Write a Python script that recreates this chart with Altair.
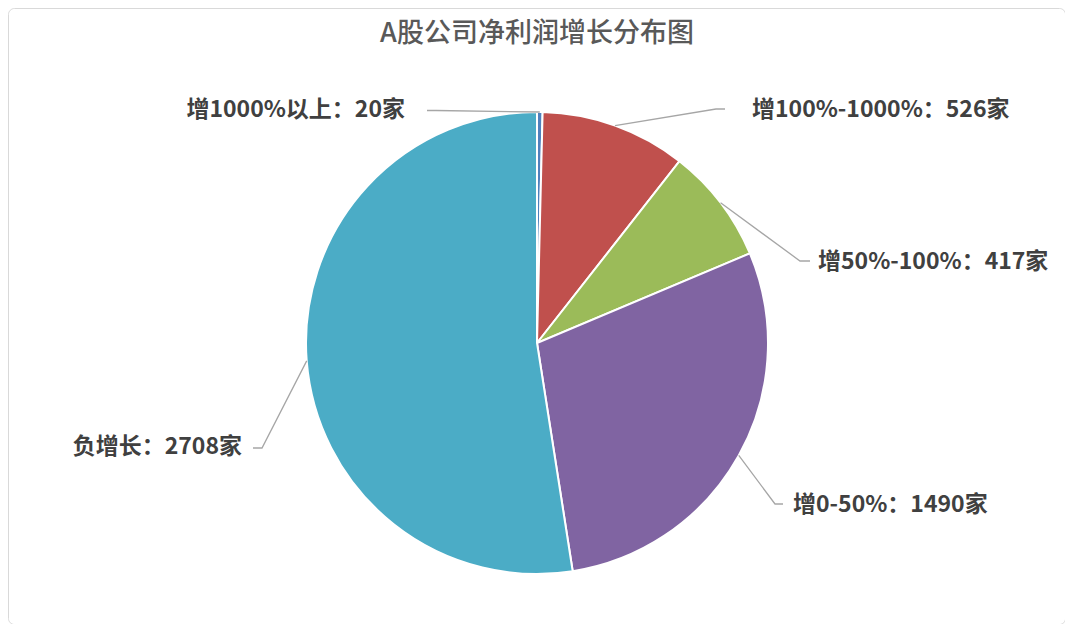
import math
import altair as alt
import pandas as pd

# ---- data ----
names = ["增1000%以上", "增100%-1000%", "增50%-100%", "增0-50%", "负增长"]
values = [20, 526, 417, 1490, 2708]
colors = ["#4F81BD", "#C0504D", "#9BBB59", "#8064A2", "#4BACC6"]
title_text = "A股公司净利润增长分布图"

# ---- layout (pixels relative to pie centre; x right, y down) ----
W, H = 1057, 616
CX, CY = 529, 335
R = 231
elbow = [(-101, -232.5), (179, -234), (263, -82), (238, 161), (-275, 105)]
tail = [(-110, -232.5), (188, -234), (273, -82), (246, 161), (-284, 105)]
text_at = [(-132, -233), (215, -233), (281, -81), (256, 162), (-295, 104)]
align = ["right", "left", "left", "left", "right"]

FONT = "Noto Sans CJK SC"
total = sum(values)

pie_df = pd.DataFrame({"name": names, "value": values, "idx": list(range(len(names)))})

# leader lines: start on the pie edge at each slice's mid angle
rows = []
cum = 0
for i, (n, v) in enumerate(zip(names, values)):
    mid = (cum + v / 2) / total * 2 * math.pi
    cum += v
    sx, sy = R * math.sin(mid), -R * math.cos(mid)
    for seq, (px, py) in enumerate([(sx, sy), elbow[i], tail[i]]):
        rows.append({"name": n, "seq": seq, "px": px, "py": -py})
line_df = pd.DataFrame(rows)

text_df = pd.DataFrame({
    "name": names,
    "label": [f"{n}：{v}家" for n, v in zip(names, values)],
    "px": [p[0] for p in text_at],
    "py": [-p[1] for p in text_at],
    "align": align,
})

xs = alt.Scale(domain=[-CX, W - CX], nice=False, zero=False)
ys = alt.Scale(domain=[-(H - CY), CY], nice=False, zero=False)

pie = alt.Chart(pie_df).mark_arc(outerRadius=R, stroke="white", strokeWidth=2).encode(
    theta=alt.Theta("value:Q", stack=True),
    order=alt.Order("idx:Q"),
    color=alt.Color("name:N", scale=alt.Scale(domain=names, range=colors), legend=None),
    x=alt.value(CX),
    y=alt.value(CY),
)

lines = alt.Chart(line_df).mark_line(color="#A6A6A6", strokeWidth=1.3).encode(
    x=alt.X("px:Q", scale=xs, axis=None),
    y=alt.Y("py:Q", scale=ys, axis=None),
    detail="name:N",
    order="seq:Q",
)

def label_layer(a):
    return alt.Chart(text_df).transform_filter(alt.datum.align == a).mark_text(
        align=a, baseline="middle", font=FONT, fontSize=23, fontWeight="bold", color="#404040"
    ).encode(
        x=alt.X("px:Q", scale=xs, axis=None),
        y=alt.Y("py:Q", scale=ys, axis=None),
        text="label:N",
    )

title = alt.Chart(pd.DataFrame({"t": [title_text]})).mark_text(
    align="center", baseline="middle", font=FONT, fontSize=27, fontWeight=500, color="#595959"
).encode(x=alt.value(CX), y=alt.value(26), text="t:N")

chart = alt.layer(pie, lines, label_layer("left"), label_layer("right"), title).properties(
    width=W, height=H, padding=0, autosize=alt.AutoSizeParams(type="none"),
    background="white",
).configure_view(stroke="#D9D9D9", strokeWidth=1, cornerRadius=6)

chart.save("out.html", embed_options={"renderer": "svg", "actions": False})
